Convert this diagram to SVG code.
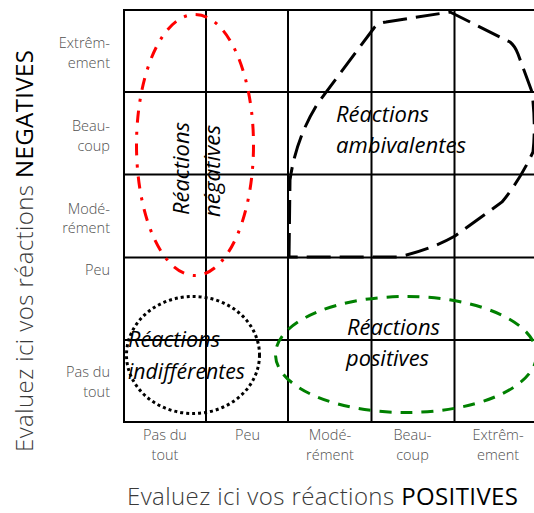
<svg xmlns="http://www.w3.org/2000/svg" width="534" height="513" viewBox="0 0 534 513">
<style>
.grid{stroke:#000;stroke-width:2;fill:none}
.lbl{font-family:"Open Sans","Liberation Sans",sans-serif;font-weight:300;font-size:14.5px;fill:#505050}
.axis{font-family:"Open Sans","Liberation Sans",sans-serif;font-weight:300;font-size:24px;fill:#3a3a3a}
.axis .b{font-weight:400;fill:#000}
.it{font-family:"Open Sans","Liberation Sans",sans-serif;font-style:italic;font-size:22px;fill:#000}
.neg{fill:none;stroke:#ff0000;stroke-width:3;stroke-dasharray:12 9 3 9}
.amb{fill:none;stroke:#000;stroke-width:3;stroke-dasharray:24 9}
.ind{fill:none;stroke:#000;stroke-width:3;stroke-dasharray:3 3}
.pos{fill:none;stroke:#008000;stroke-width:3;stroke-dasharray:12 9}
</style>
<rect width="534" height="513" fill="#fff"/>
<g id="grid">
<rect class="grid" x="124" y="10" width="414" height="412"/>
<line class="grid" x1="206" y1="10" x2="206" y2="422"/>
<line class="grid" x1="288" y1="10" x2="288" y2="422"/>
<line class="grid" x1="371.5" y1="10" x2="371.5" y2="422"/>
<line class="grid" x1="454.5" y1="10" x2="454.5" y2="422"/>
<line class="grid" x1="124" y1="92" x2="538" y2="92"/>
<line class="grid" x1="124" y1="174.5" x2="538" y2="174.5"/>
<line class="grid" x1="124" y1="257.5" x2="538" y2="257.5"/>
<line class="grid" x1="124" y1="340" x2="538" y2="340"/>
</g>
<g id="row-labels" class="lbl" text-anchor="end">
<text x="110" y="48">Extrêm-</text>
<text x="110" y="68">ement</text>
<text x="110" y="131">Beau-</text>
<text x="110" y="151">coup</text>
<text x="110" y="214">Modé-</text>
<text x="110" y="233">rément</text>
<text x="110" y="275">Peu</text>
<text x="110" y="377">Pas du</text>
<text x="110" y="397">tout</text>
</g>
<g id="col-labels" class="lbl" text-anchor="middle">
<text x="165" y="440">Pas du</text>
<text x="165" y="460">tout</text>
<text x="247.5" y="440">Peu</text>
<text x="330" y="440">Modé-</text>
<text x="330" y="460">rément</text>
<text x="412.5" y="440">Beau-</text>
<text x="412.5" y="460">coup</text>
<text x="498" y="440">Extrêm-</text>
<text x="498" y="460">ement</text>
</g>
<g id="axis-x">
<text class="axis" x="322.5" y="505" text-anchor="middle" textLength="391">Evaluez ici vos réactions <tspan class="b">POSITIVES</tspan></text>
</g>
<g id="axis-y">
<text class="axis" transform="translate(33,251) rotate(-90)" text-anchor="middle" textLength="402">Evaluez ici vos réactions <tspan class="b">NEGATIVES</tspan></text>
</g>
<g id="negatives">
<ellipse class="neg" cx="195" cy="145" rx="58.5" ry="130.5"/>
<text class="it" transform="translate(189,215) rotate(-90)" textLength="93" lengthAdjust="spacingAndGlyphs">Réactions</text>
<text class="it" transform="translate(220,217) rotate(-90)" textLength="92" lengthAdjust="spacingAndGlyphs">négatives</text>
</g>
<g id="ambivalentes">
<path class="amb" d="M 289 257 L 290 180 Q 296 138 318 103 L 374 28 Q 378 23 386 22 L 450 12 L 510 42 Q 515 46 518 54 L 532 92 Q 536 125 533 152 Q 520 180 502 202 L 455 236 Q 430 250 398 257 Z"/>
<text class="it" x="336" y="122" textLength="93" lengthAdjust="spacingAndGlyphs">Réactions</text>
<text class="it" x="336" y="153" textLength="130" lengthAdjust="spacingAndGlyphs">ambivalentes</text>
</g>
<g id="indifferentes">
<ellipse class="ind" cx="193" cy="355" rx="66.5" ry="58.5"/>
<text class="it" x="128" y="347" textLength="92" lengthAdjust="spacingAndGlyphs">Réactions</text>
<text class="it" x="128" y="379" textLength="117" lengthAdjust="spacingAndGlyphs">indifférentes</text>
</g>
<g id="positives">
<ellipse class="pos" cx="406" cy="354.5" rx="130.5" ry="58"/>
<text class="it" x="347" y="335" textLength="93" lengthAdjust="spacingAndGlyphs">Réactions</text>
<text class="it" x="346" y="366" textLength="83" lengthAdjust="spacingAndGlyphs">positives</text>
</g>
</svg>
